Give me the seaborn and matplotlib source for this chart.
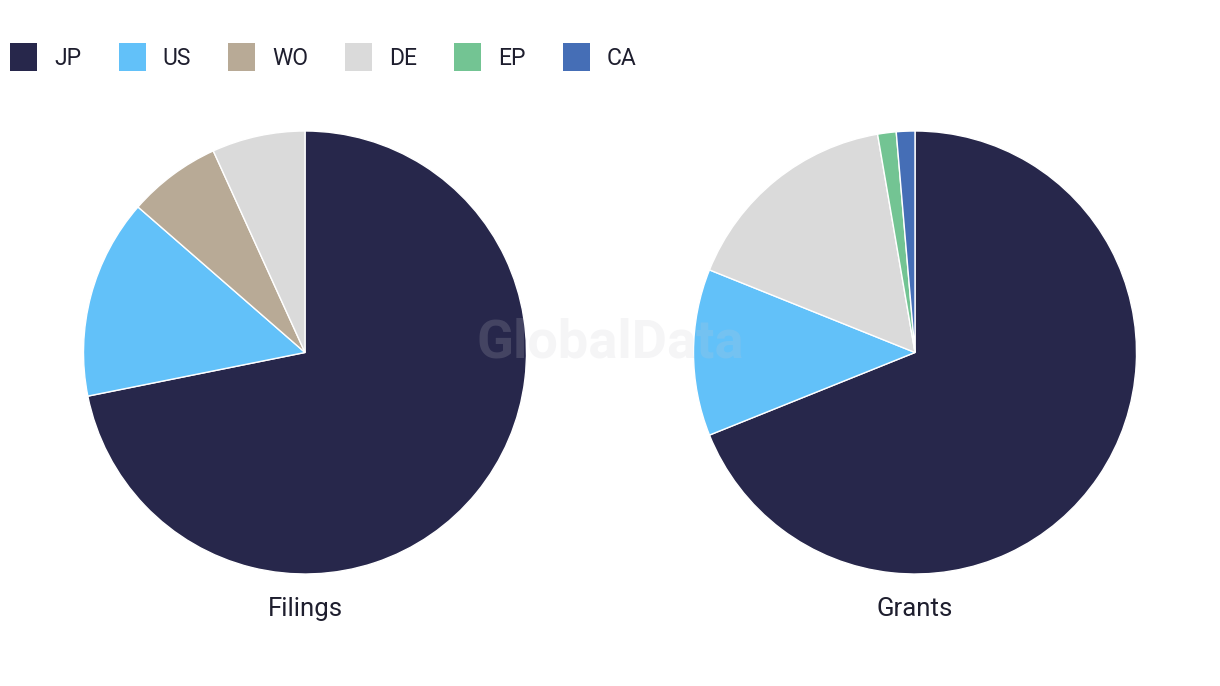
import matplotlib
matplotlib.use("Agg")
import matplotlib.pyplot as plt
import seaborn as sns
from matplotlib.patches import Patch

sns.set_theme(style="white")
plt.rcParams['font.family'] = ['Roboto', 'DejaVu Sans']

# Data
legend_labels = ["JP", "US", "WO", "DE", "EP", "CA"]
legend_colors = ["#27274B", "#62C1F9", "#B8AA96", "#DADADA", "#73C493", "#456EB6"]

filings_labels = ["JP", "US", "WO", "DE"]
filings_values = [74, 15, 7, 7]

grants_labels = ["JP", "US", "DE", "EP", "CA"]
grants_values = [51, 9, 12, 1, 1]

titles = ["Filings", "Grants"]

cmap = dict(zip(legend_labels, legend_colors))

W, H = 1220, 686
fig = plt.figure(figsize=(W / 100, H / 100), dpi=100)

R = 221.5
centers = [(305, 352.5), (915, 352.5)]
datasets = [(filings_labels, filings_values), (grants_labels, grants_values)]

for (cx, cy), (labs, vals), title in zip(centers, datasets, titles):
    ax = fig.add_axes([(cx - R) / W, 1 - (cy + R) / H, 2 * R / W, 2 * R / H])
    ax.pie(vals, colors=[cmap[l] for l in labs], startangle=90, counterclock=False,
           radius=1.0, wedgeprops=dict(edgecolor="white", linewidth=1.0))
    ax.set_xlim(-1, 1)
    ax.set_ylim(-1, 1)
    ax.set_aspect("equal")
    ax.axis("off")
    fig.text(cx / W, 1 - 609 / H, title, ha="center", va="center",
             fontsize=18.5, color="#1E1E2E")

# Legend
handles = [Patch(facecolor=c, edgecolor="none") for c in legend_colors]
fig.legend(handles, legend_labels, loc="center left", bbox_to_anchor=(0.0, 1 - 57 / H),
           ncol=6, frameon=False, fontsize=16.5, handlelength=1.18, handleheight=1.44,
           handletextpad=0.74, columnspacing=1.62, labelcolor="#1E1E2E",
           borderaxespad=0.0, borderpad=0.45)

# Watermark
fig.text(610 / W, 1 - 343 / H, "GlobalData", ha="center", va="center",
         fontsize=39, fontweight="bold", color="#C8C8D0", alpha=0.18)

fig.savefig("out.png", dpi=100)
